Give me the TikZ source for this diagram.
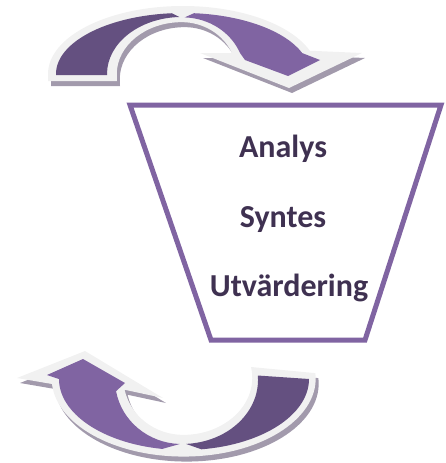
\documentclass[tikz,border=0pt]{standalone}
\usepackage{fontspec}
\setmainfont{Carlito}
\definecolor{arrowdark}{RGB}{100,80,128}
\definecolor{arrowlight}{RGB}{128,100,162}
\definecolor{rim}{RGB}{241,241,241}
\definecolor{shade}{RGB}{162,154,172}
\definecolor{ink}{RGB}{63,49,81}
\tikzstyle{rimfill}=[fill=rim]
\tikzstyle{shadefill}=[fill=shade,shift={(3,5)}]
\tikzstyle{frame}=[draw=arrowlight,line width=5pt,miter limit=10]
\tikzstyle{lbl}=[text=ink,anchor=base,inner sep=0pt,font=\bfseries\fontsize{32}{38}\selectfont]
% outlines of the two bent arrows, used for the rim and its shadow
\newcommand{\toprim}{(48,81) -- (48,74) arc[start angle=180, end angle=340, x radius=135, y radius=68]
    -- (362,53) -- (289,88) -- (200,53) -- (232,53)
    arc[start angle=336, end angle=270, x radius=55, y radius=52]
    arc[start angle=270, end angle=180, x radius=65, y radius=52] -- (117,81) -- cycle}
\newcommand{\bottomrim}{(85,351) -- (17,378) -- (52,384) arc[start angle=176, end angle=-4, x radius=132, y radius=78]
    -- (251,367) arc[start angle=-11, end angle=90, x radius=69, y radius=57]
    arc[start angle=90, end angle=168, x radius=60, y radius=57] -- (163,398) -- cycle}

\begin{document}
\begin{tikzpicture}[x=1pt,y=-1pt]
    \useasboundingbox (0,0) rectangle (446,463);
    % shadows and light rims
    \fill[shadefill] \toprim;
    \fill[shadefill] \bottomrim;
    \fill[rimfill] \toprim;
    \fill[rimfill] \bottomrim;
    % upper arrow
    \fill[arrowdark] (56,75) -- (56,74) arc[start angle=180, end angle=265, x radius=127, y radius=61]
        -- (179.4,17) arc[start angle=268, end angle=180, x radius=75, y radius=57] -- (107,75) -- cycle;
    \fill[arrowlight] (194,13.2) arc[start angle=275, end angle=340, x radius=127, y radius=61]
        -- (320,60) -- (288,76) -- (245,60) -- (240,53)
        arc[start angle=338, end angle=272, x radius=62, y radius=57] -- cycle;
    % lower arrow
    \fill[arrowlight] (83,359) -- (47,375) -- (59,379) arc[start angle=180, end angle=100, x radius=125, y radius=71]
        -- (179.7,444) arc[start angle=92, end angle=170, x radius=67, y radius=64] -- (125,383) -- cycle;
    \fill[arrowdark] (309,379) arc[start angle=0, end angle=82, x radius=125, y radius=71]
        -- (186,443.9) arc[start angle=87, end angle=-4, x radius=76, y radius=64] -- cycle;
    % funnel
    \draw[frame] (130,105) -- (441,105) -- (365,340) -- (211,340) -- cycle;
    \foreach \t/\n/\p in {Analys/analys/{283,157}, Syntes/syntes/{283,227}, Utvärdering/utvardering/{289,296}}
        \node[lbl] (\n) at (\p) {\t};
\end{tikzpicture}
\end{document}
